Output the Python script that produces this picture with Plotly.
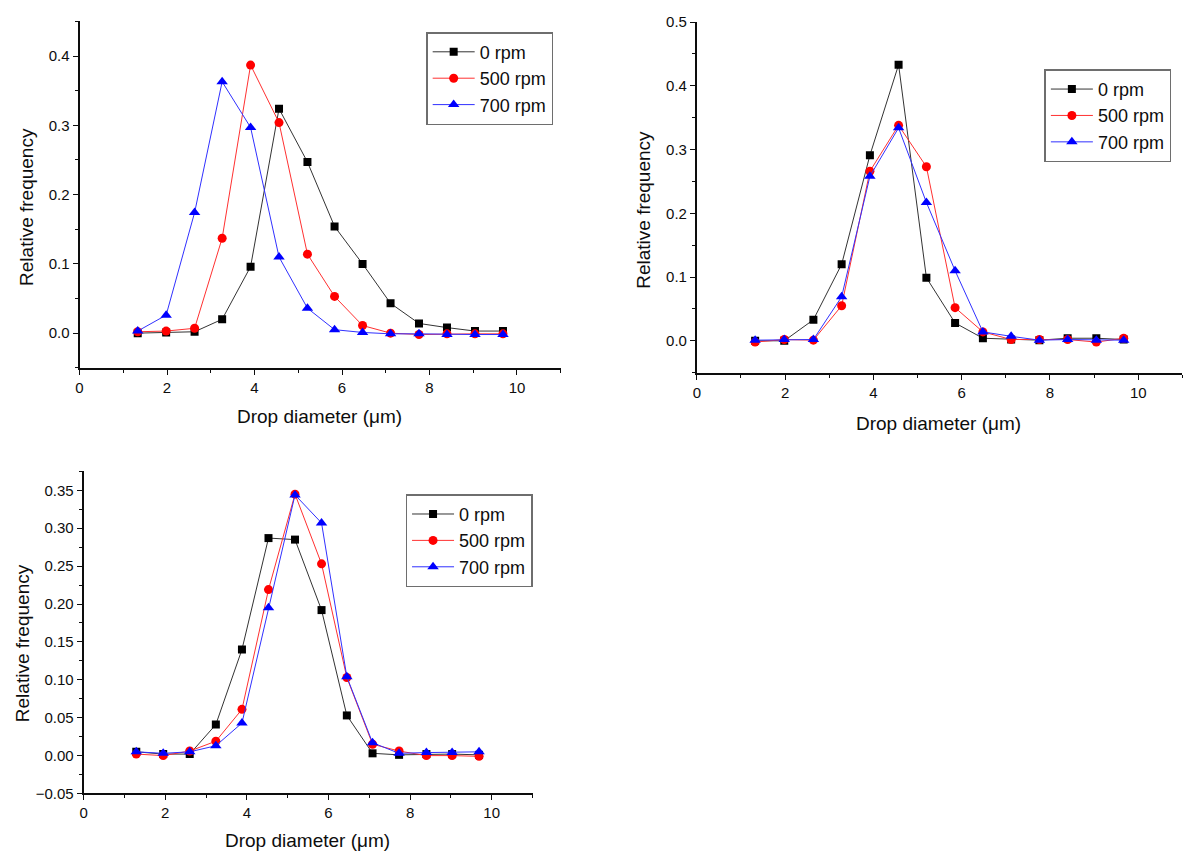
import plotly.graph_objects as go

W, H = 1187, 861

# ---- data -------------------------------------------------------------
series_names = ["0 rpm", "500 rpm", "700 rpm"]

# panel A
diam_a = [1.33, 1.98, 2.63, 3.26, 3.91, 4.56, 5.21, 5.83, 6.47, 7.11, 7.76, 8.40, 9.04, 9.68]
freq_a_0 = [0.000, 0.001, 0.002, 0.020, 0.096, 0.324, 0.247, 0.154, 0.100, 0.043, 0.014, 0.008, 0.003, 0.003]
freq_a_500 = [0.002, 0.003, 0.007, 0.137, 0.387, 0.304, 0.114, 0.053, 0.011, 0.000, -0.002, -0.001, -0.001, -0.001]
freq_a_700 = [0.003, 0.026, 0.174, 0.363, 0.297, 0.110, 0.036, 0.005, 0.001, -0.001, -0.001, -0.002, -0.002, -0.002]

# panel B
diam_b = [1.32, 1.98, 2.64, 3.28, 3.92, 4.57, 5.20, 5.85, 6.48, 7.12, 7.76, 8.40, 9.05, 9.67]
freq_b_0 = [0.000, 0.000, 0.033, 0.120, 0.291, 0.433, 0.099, 0.028, 0.004, 0.002, 0.001, 0.004, 0.004, 0.002]
freq_b_500 = [-0.002, 0.002, 0.001, 0.055, 0.266, 0.338, 0.273, 0.052, 0.014, 0.002, 0.002, 0.002, -0.002, 0.004]
freq_b_700 = [0.001, 0.002, 0.002, 0.069, 0.258, 0.334, 0.217, 0.110, 0.014, 0.007, 0.001, 0.002, 0.001, 0.001]

# panel C
diam_c = [1.29, 1.95, 2.60, 3.24, 3.88, 4.53, 5.18, 5.83, 6.45, 7.08, 7.73, 8.40, 9.03, 9.69]
freq_c_0 = [0.005, 0.002, 0.002, 0.041, 0.140, 0.287, 0.285, 0.192, 0.053, 0.003, 0.001, 0.002, 0.002, 0.001]
freq_c_500 = [0.002, 0.000, 0.006, 0.019, 0.061, 0.219, 0.345, 0.253, 0.103, 0.015, 0.006, 0.000, 0.000, -0.001]
freq_c_700 = [0.005, 0.003, 0.005, 0.013, 0.043, 0.195, 0.344, 0.307, 0.104, 0.017, 0.003, 0.004, 0.004, 0.005]

x_ticks = [0, 2, 4, 6, 8, 10]

# ---- style ------------------------------------------------------------
FONT = "Liberation Sans, Arial, sans-serif"
INK = "#0d0d0d"
styles = [
    dict(line=dict(color="#333333", width=1), marker=dict(symbol="square", size=8, color="#000000")),
    dict(line=dict(color="#ff3030", width=1), marker=dict(symbol="circle", size=9, color="#ff0000")),
    dict(line=dict(color="#3030ff", width=1), marker=dict(symbol="triangle-up", size=10, color="#0000ff")),
]


def px_x(v):
    return v / W


def px_y(v):
    return 1 - v / H


panels = [
    dict(x=diam_a, ys=[freq_a_0, freq_a_500, freq_a_700], box=(75.8, 558.6, 12.7, 366),
         yrange=[-0.05, 0.45], dtick=0.1, minor=0.05, fmt=".1f", leg=(423.6, 71),
         ytitle=(22, 202), xtitle=(317, 416)),
    dict(x=diam_b, ys=[freq_b_0, freq_b_500, freq_b_700], box=(695.2, 1182.4, 13.3, 371),
         yrange=[-0.05, 0.5], dtick=0.1, minor=0.05, fmt=".1f", leg=(1043.9, 109),
         ytitle=(642, 205), xtitle=(938, 423)),
    dict(x=diam_c, ys=[freq_c_0, freq_c_500, freq_c_700], box=(79.9, 530.3, 471.7, 800.3),
         yrange=[-0.05, 0.375], dtick=0.05, minor=0.025, fmt=".2f", leg=(402.9, 542.5),
         ytitle=(18, 647), xtitle=(305, 848)),
]

fig = go.Figure()
layout = dict(
    width=W, height=H, autosize=False,
    margin=dict(l=0, r=0, t=0, b=0),
    paper_bgcolor="white", plot_bgcolor="white",
    font=dict(family=FONT, color=INK),
    showlegend=True,
)
annotations = []

for i, p in enumerate(panels):
    n = "" if i == 0 else str(i + 1)
    xa, ya = "x" + n, "y" + n
    leg = "legend" + n
    for name, yv, st in zip(series_names, p["ys"], styles):
        fig.add_trace(go.Scatter(
            x=p["x"], y=yv, name=name, mode="lines+markers",
            line=st["line"], marker=st["marker"],
            xaxis=xa, yaxis=ya, legend=leg,
        ))
    l, r, t, b = p["box"]
    axis_common = dict(
        showline=True, linecolor=INK, linewidth=1.8,
        ticks="outside", ticklen=5, tickwidth=1.4, tickcolor=INK,
        showgrid=False, zeroline=False,
        tickfont=dict(size=15, family=FONT, color=INK),
    )
    layout["xaxis" + n] = dict(
        axis_common, domain=[px_x(l), px_x(r)], range=[0, 11],
        tickvals=x_ticks, anchor=ya,
        minor=dict(ticks="outside", ticklen=3, tickwidth=1.2, tickcolor=INK, dtick=1, tick0=0),
    )
    layout["yaxis" + n] = dict(
        axis_common, domain=[px_y(b), px_y(t)], range=p["yrange"],
        tick0=0, dtick=p["dtick"], tickformat=p["fmt"], anchor=xa,
        minor=dict(ticks="outside", ticklen=3, tickwidth=1.2, tickcolor=INK, dtick=p["minor"], tick0=0),
    )
    lx, ly = p["leg"]
    layout[leg] = dict(
        x=px_x(lx), y=px_y(ly), xanchor="left", yanchor="middle",
        xref="paper", yref="paper",
        bgcolor="white", bordercolor="#6e6e6e", borderwidth=1.5,
        font=dict(size=18, family=FONT, color=INK),
        itemwidth=42, tracegroupgap=0,
    )
    tx, ty = p["ytitle"]
    annotations.append(dict(
        text="Relative frequency", x=px_x(tx), y=px_y(ty), xref="paper", yref="paper",
        textangle=-90, showarrow=False, xanchor="center", yanchor="middle",
        font=dict(size=19, family=FONT, color=INK),
    ))
    tx, ty = p["xtitle"]
    annotations.append(dict(
        text="Drop diameter (\u03bcm)", x=px_x(tx), y=px_y(ty), xref="paper", yref="paper",
        showarrow=False, xanchor="center", yanchor="middle",
        font=dict(size=19, family=FONT, color=INK),
    ))

layout["annotations"] = annotations
fig.update_layout(**layout)
fig.write_html("out.html")
